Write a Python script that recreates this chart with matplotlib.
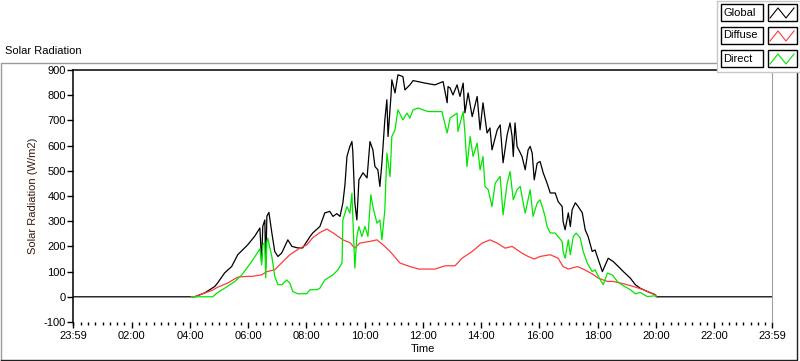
import matplotlib
matplotlib.use("Agg")
import matplotlib.pyplot as plt
from matplotlib.patches import Rectangle
from matplotlib.lines import Line2D
import numpy as np

plt.rcParams['font.family'] = ['Liberation Sans', 'DejaVu Sans']
plt.rcParams['axes.unicode_minus'] = False

# hours after midnight, W/m2
t_global = [0.00, 4.16, 4.50, 4.85, 4.95, 5.19, 5.43, 5.64, 5.98, 6.22, 6.40, 6.46, 6.50, 6.57, 6.60,
            6.64, 6.71, 6.81, 6.91, 7.02, 7.15, 7.36, 7.50, 7.70, 7.87, 8.12, 8.22, 8.46, 8.63, 8.80,
            8.91, 9.04, 9.15, 9.25, 9.32, 9.39, 9.49, 9.56, 9.59, 9.66, 9.73, 9.80, 9.94, 10.08, 10.18,
            10.28, 10.35, 10.45, 10.52, 10.59, 10.69, 10.76, 10.80, 10.90, 10.93, 11.04, 11.14, 11.31,
            11.38, 11.45, 11.55, 11.66, 11.83, 12.07, 12.41, 12.69, 12.83, 12.86, 12.93, 13.03, 13.17,
            13.27, 13.38, 13.44, 13.55, 13.69, 13.86, 13.96, 14.06, 14.20, 14.30, 14.37, 14.55, 14.65,
            14.75, 14.89, 14.99, 15.06, 15.10, 15.16, 15.23, 15.40, 15.51, 15.61, 15.68, 15.75, 15.82,
            15.92, 16.02, 16.13, 16.26, 16.37, 16.54, 16.64, 16.78, 16.81, 16.88, 16.99, 17.06, 17.12,
            17.23, 17.33, 17.47, 17.57, 17.67, 17.81, 17.91, 18.02, 18.16, 18.26, 18.36, 18.53, 18.71,
            18.88, 19.12, 19.29, 19.46, 19.70, 19.98, 20.01, 24.00]
global_rad = [0, 0, 15, 41, 55, 95, 120, 167, 206, 240, 273, 140, 280, 305, 115,
              320, 335, 254, 180, 160, 174, 226, 200, 194, 194, 239, 254, 279, 333, 339,
              319, 330, 319, 373, 444, 557, 597, 616, 577, 373, 305, 464, 492, 472, 616,
              583, 517, 504, 438, 532, 702, 782, 636, 795, 861, 809, 881, 874,
              821, 829, 841, 858, 854, 848, 841, 854, 770, 834, 829, 801, 841,
              795, 848, 730, 809, 715, 795, 663, 770, 650, 670, 583, 663, 682,
              532, 643, 690, 636, 557, 690, 597, 557, 504, 583, 597, 570, 464,
              530, 537, 491, 451, 412, 412, 378, 358, 299, 266, 333, 279, 345,
              373, 358, 333, 266, 239, 180, 186, 147, 100, 127, 153, 140, 120,
              100, 74, 48, 34, 21, 8, 0, 0]

t_diffuse = [4.05, 4.16, 4.33, 4.75, 4.95, 5.30, 5.64, 5.95, 6.12, 6.46, 6.64, 6.91, 7.15, 7.43, 7.77,
             8.01, 8.22, 8.46, 8.70, 8.91, 9.25, 9.49, 9.66, 9.83, 10.18, 10.42, 10.63, 10.87, 11.21,
             11.55, 11.86, 12.41, 12.76, 13.10, 13.34, 13.69, 14.03, 14.30, 14.55, 14.82, 15.06, 15.40,
             15.61, 15.82, 16.02, 16.37, 16.64, 16.81, 16.99, 17.30, 17.50, 17.81, 18.02, 18.33, 18.53,
             18.88, 19.22, 19.57, 19.98, 20.01]
diffuse_rad = [0, 0, 8, 25, 38, 55, 78, 81, 81, 87, 100, 107, 135, 167, 193,
               206, 235, 255, 269, 254, 226, 215, 193, 213, 220, 226, 206, 180, 134,
               120, 110, 110, 123, 123, 153, 180, 213, 226, 213, 193, 200, 173,
               160, 150, 160, 167, 153, 120, 110, 120, 110, 91, 74, 61, 61,
               52, 41, 28, 8, 0]

t_direct = [4.05, 4.78, 4.95, 5.19, 5.54, 5.78, 6.12, 6.40, 6.46, 6.50, 6.57, 6.60, 6.64, 6.67, 6.81,
            6.91, 7.02, 7.15, 7.32, 7.43, 7.53, 7.70, 8.01, 8.12, 8.36, 8.46, 8.63, 8.91, 9.08, 9.22,
            9.25, 9.39, 9.49, 9.56, 9.59, 9.66, 9.73, 9.80, 9.90, 10.01, 10.11, 10.21, 10.28, 10.42,
            10.52, 10.59, 10.69, 10.76, 10.87, 10.93, 11.04, 11.14, 11.31, 11.45, 11.55, 11.66, 11.83,
            12.17, 12.65, 12.83, 12.93, 13.17, 13.20, 13.38, 13.44, 13.51, 13.62, 13.72, 13.86, 13.96,
            14.06, 14.13, 14.24, 14.37, 14.48, 14.65, 14.75, 14.89, 14.99, 15.10, 15.23, 15.34, 15.40,
            15.51, 15.68, 15.78, 15.92, 16.02, 16.13, 16.19, 16.26, 16.37, 16.54, 16.64, 16.78, 16.81,
            16.88, 16.99, 17.06, 17.16, 17.26, 17.40, 17.50, 17.64, 17.81, 17.91, 18.02, 18.19, 18.33,
            18.50, 18.67, 18.88, 19.12, 19.29, 19.46, 19.70, 19.98, 20.01]
direct_rad = [0, 0, 17, 34, 61, 87, 140, 190, 127, 206, 215, 75, 220, 233, 160,
              81, 48, 48, 67, 54, 21, 12, 12, 28, 28, 34, 67, 87, 107, 134,
              305, 358, 332, 411, 319, 114, 239, 279, 239, 279, 239, 405, 358, 292,
              305, 226, 345, 570, 477, 636, 663, 742, 702, 729, 709, 742, 749,
              735, 735, 650, 709, 729, 656, 735, 650, 517, 636, 557, 610, 504,
              557, 438, 425, 358, 451, 478, 325, 451, 497, 385, 425, 438, 398,
              332, 425, 319, 372, 385, 345, 319, 279, 253, 253, 239, 219, 180,
              153, 226, 167, 239, 253, 233, 180, 134, 100, 107, 81, 48, 94,
              87, 61, 44, 28, 12, 17, 1, 4, 0]

tick_hours = [-1 / 60, 2, 4, 6, 8, 10, 12, 14, 16, 18, 20, 22, 24 - 1 / 60]
tick_labels = ['23:59', '02:00', '04:00', '06:00', '08:00', '10:00', '12:00',
               '14:00', '16:00', '18:00', '20:00', '22:00', '23:59']
series_names = ['Global', 'Diffuse', 'Direct']
series_colors = ['black', '#ff3b3b', '#00e600']

fig = plt.figure(figsize=(8, 3.61), dpi=100)
W, H = 800, 361


def px_line(xs, ys, color, lw=1.0, z=1):
    fig.add_artist(Line2D(np.array(xs) / W, 1 - np.array(ys) / H,
                          transform=fig.transFigure, color=color, lw=lw, zorder=z))


# outer sunken frame of the chart
px_line([0.5, 0.5, 797], [359.5, 62.5, 62.5], '#9a9a9a')
px_line([0.5, 797, 797], [359.5, 359.5, 62.5], '#202020')

ax = fig.add_axes([73 / W, 1 - 322 / H, 699 / W, 252 / H])
ax.plot(t_global, global_rad, color=series_colors[0], lw=0.9)
ax.plot(t_diffuse, diffuse_rad, color=series_colors[1], lw=0.9)
ax.plot(t_direct, direct_rad, color=series_colors[2], lw=0.9)

ax.set_xlim(-1 / 60, 24 - 1 / 60)
ax.set_ylim(-100, 900)
ax.set_yticks(np.arange(-100, 901, 100))
ax.set_xticks(tick_hours)
ax.set_xticklabels(tick_labels)
ax.set_xticks(np.arange(0, 24, 0.25), minor=True)
ax.tick_params(axis='both', labelsize=8, direction='out', color='black', pad=2)
ax.tick_params(axis='x', which='major', length=4.5, width=1)
ax.tick_params(axis='x', which='minor', length=2.5, width=1)
ax.tick_params(axis='y', length=4, width=1, pad=1)
ax.spines['right'].set_color('#a0a0a0')
ax.spines['bottom'].set_visible(False)
for s in ['top', 'left']:
    ax.spines[s].set_color('black')
    ax.spines[s].set_linewidth(1.1)

ax.set_ylabel('Solar Radiation (W/m2)', fontsize=8, color='#3a1a10', labelpad=4)
ax.set_xlabel('Time', fontsize=8, labelpad=2)
fig.text(5 / W, 1 - 51 / H, 'Solar Radiation', fontsize=8, va='center', ha='left')

# legend panel in top right
fig.add_artist(Rectangle((716.5 / W, 1 - 71.5 / H), 83 / W, 71 / H, transform=fig.transFigure,
                         facecolor='white', edgecolor='#c8c8c8', lw=1, zorder=5))
row_tops = [4, 27, 50]
for name, col, top in zip(series_names, series_colors, row_tops):
    fig.add_artist(Rectangle((720.5 / W, 1 - (top + 17) / H), 42 / W, 17 / H,
                             transform=fig.transFigure, facecolor='white',
                             edgecolor='black', lw=1, zorder=6))
    fig.text(723 / W, 1 - (top + 8.5) / H, name, fontsize=8, va='center', ha='left', zorder=7)
    fig.add_artist(Rectangle((767.5 / W, 1 - (top + 17) / H), 29 / W, 17 / H,
                             transform=fig.transFigure, facecolor='white',
                             edgecolor='black', lw=1, zorder=6))
    px_line([770, 778, 786, 794], [top + 14, top + 4, top + 14, top + 4], col, lw=0.8, z=7)

fig.savefig('out.png', dpi=100)
